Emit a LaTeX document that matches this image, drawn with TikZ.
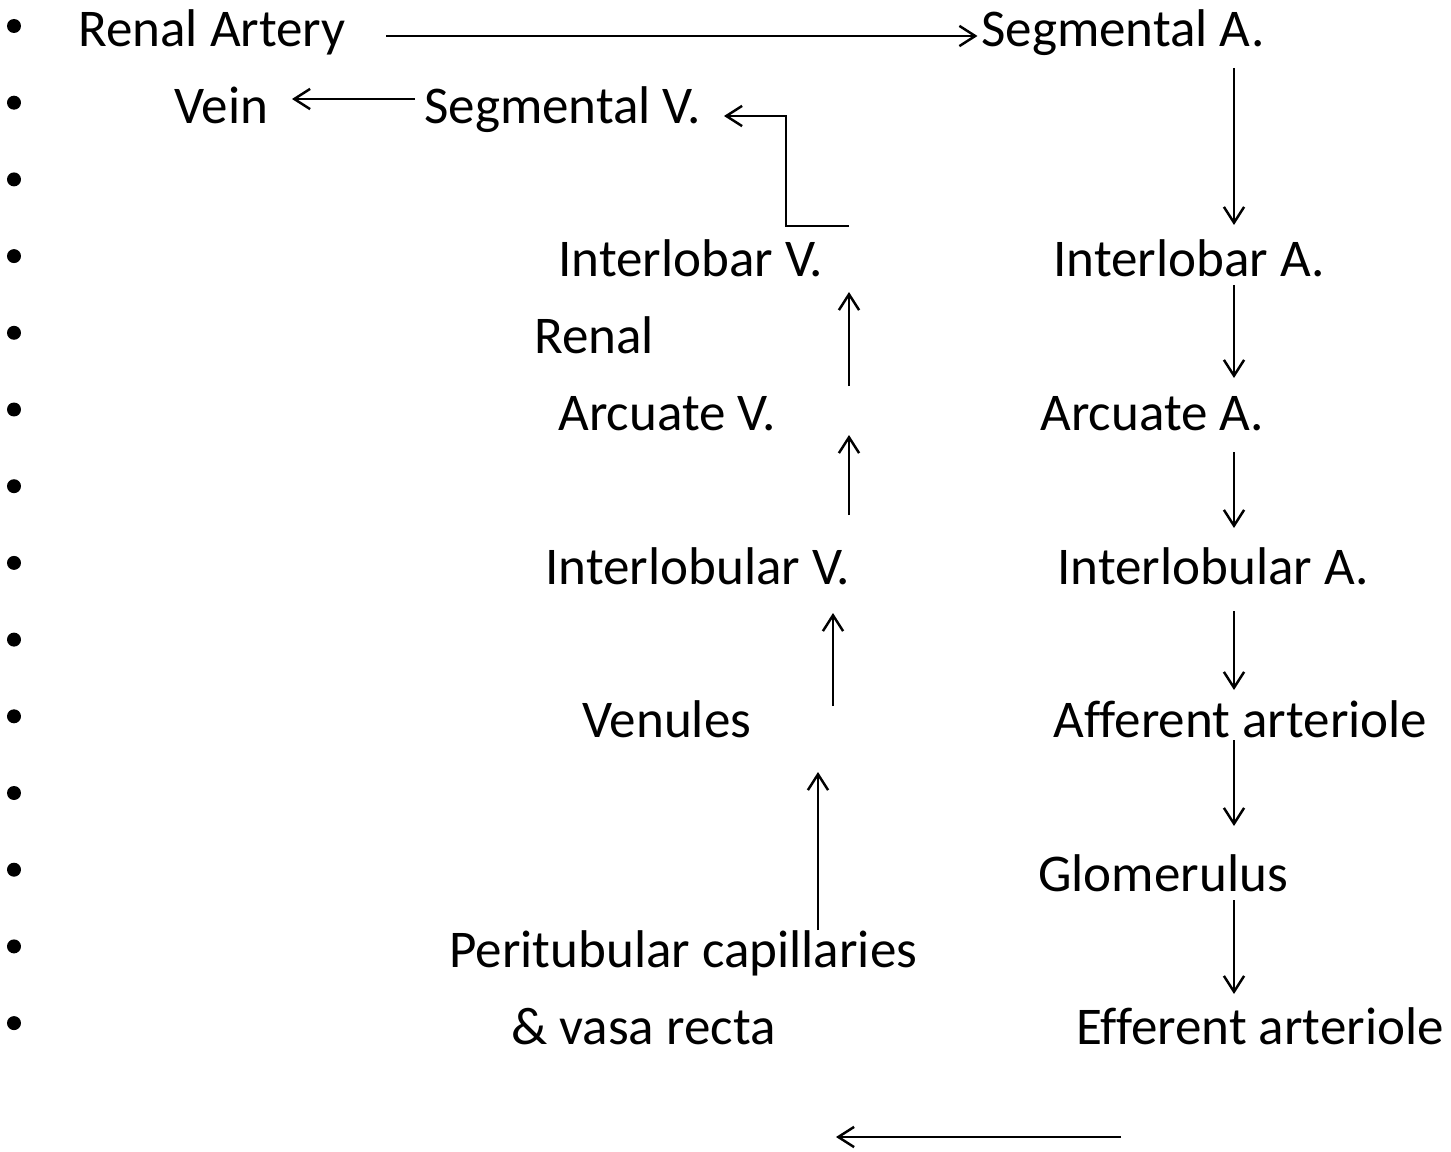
\documentclass[tikz,border=0pt]{standalone}
\usepackage{fontspec}
\setmainfont{Carlito}[Ligatures={NoCommon}]
\usetikzlibrary{arrows.meta}

\tikzset{
  lbl/.style={anchor=base west, inner sep=0pt, font=\fontsize{30.2}{36}\selectfont},
  dot/.style={circle, fill, inner sep=0pt, minimum size=0.28cm},
  flow/.style={-{Straight Barb[length=9pt,width=11.5pt]}, line width=1.4pt},
}

\begin{document}
\begin{tikzpicture}[x=0.02cm,y=-0.02cm]
  \useasboundingbox (0,0) rectangle (1451,1152);

  % bullets down the left side
  \foreach \i in {0,...,13}
    \node[dot] (b\i) at (14,26+76.7*\i) {};

  % arterial side
  \node[lbl] (ra) at (78,47) {Renal Artery};
  \node[lbl] (sa) at (981,47) {Segmental A.};
  \node[lbl] (ia) at (1053,277) {Interlobar A.};
  \node[lbl] (aa) at (1040,430) {Arcuate A.};
  \node[lbl] (ila) at (1057,584) {Interlobular A.};
  \node[lbl] (af) at (1053,737) {Afferent arteriole};
  \node[lbl] (gl) at (1038,891) {Glomerulus};
  \node[lbl] (ea) at (1076,1044) {Efferent arteriole};

  % venous side
  \node[lbl] (vein) at (174,124) {Vein};
  \node[lbl] (sv) at (424,124) {Segmental V.};
  \node[lbl] (ilv) at (558,277) {Interlobar V.};
  \node[lbl] (rn) at (534,354) {Renal};
  \node[lbl] (av) at (558,430) {Arcuate V.};
  \node[lbl] (ilbv) at (545,584) {Interlobular V.};
  \node[lbl] (vn) at (582,737) {Venules};
  \node[lbl] (pc) at (449,967) {Peritubular\ capillaries};
  \node[lbl] (vr) at (511,1044) {\& vasa recta};

  % top row
  \coordinate (ra-out) at (386,36);
  \draw[flow] (ra-out) -- ([xshift=-2pt]ra-out -| sa.west);
  \coordinate (vein-in) at (292,99);
  \draw[flow] ([xshift=-5pt]vein-in -| sv.west) -- (vein-in);

  % elbow back to segmental vein
  \coordinate (ilv-out) at (849,226);
  \coordinate (sv-in) at (724,116);
  \draw[flow] (ilv-out) -- ++(-63,0) |- (sv-in);

  % down the arteries
  \foreach \a/\b [count=\k] in {68/225, 285/378, 452/528, 611/690, 740/826, 900/994} {
    \coordinate (dn\k-s) at (1234,\a);
    \coordinate (dn\k-e) at (1234,\b);
    \draw[flow] (dn\k-s) -- (dn\k-e);
  }

  % up the veins
  \foreach \x/\a/\b [count=\k] in {849/386/292, 849/515/435, 833/706/613, 818/930/772} {
    \coordinate (up\k-s) at (\x,\a);
    \coordinate (up\k-e) at (\x,\b);
    \draw[flow] (up\k-s) -- (up\k-e);
  }

  % bottom
  \coordinate (ea-out) at (1121,1137);
  \coordinate (pc-in) at (836,1137);
  \draw[flow] (ea-out) -- (pc-in);
\end{tikzpicture}
\end{document}
